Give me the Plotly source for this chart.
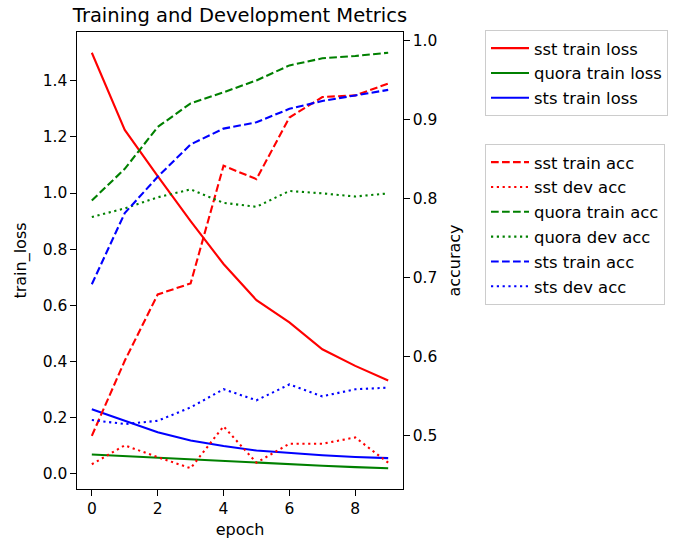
import plotly.graph_objects as go

epochs = list(range(10))

# losses (left axis)
sst_train_loss = [1.50, 1.225, 1.06, 0.90, 0.747, 0.618, 0.539, 0.443, 0.384, 0.332]
quora_train_loss = [0.068, 0.062, 0.056, 0.050, 0.044, 0.038, 0.033, 0.028, 0.023, 0.019]
sts_train_loss = [0.229, 0.187, 0.147, 0.118, 0.098, 0.082, 0.073, 0.065, 0.059, 0.055]

# accuracies (right axis)
sst_train_acc = [0.500, 0.595, 0.679, 0.693, 0.842, 0.825, 0.903, 0.929, 0.931, 0.946]
sst_dev_acc = [0.464, 0.488, 0.473, 0.459, 0.512, 0.466, 0.490, 0.490, 0.498, 0.466]
quora_train_acc = [0.798, 0.838, 0.891, 0.921, 0.935, 0.950, 0.969, 0.978, 0.981, 0.985]
quora_dev_acc = [0.777, 0.788, 0.802, 0.812, 0.795, 0.790, 0.810, 0.807, 0.803, 0.807]
sts_train_acc = [0.692, 0.782, 0.828, 0.869, 0.889, 0.897, 0.914, 0.924, 0.931, 0.938]
sts_dev_acc = [0.520, 0.515, 0.519, 0.536, 0.559, 0.545, 0.565, 0.550, 0.559, 0.561]

RED, GREEN, BLUE = "#ff0000", "#008000", "#0000ff"
DASH = "7.7px,3.3px"
DOT = "2.2px,3.6px"
LW = 2.1

fig = go.Figure()

loss_series = [
    ("sst train loss", sst_train_loss, RED),
    ("quora train loss", quora_train_loss, GREEN),
    ("sts train loss", sts_train_loss, BLUE),
]
for i, (name, vals, col) in enumerate(loss_series):
    fig.add_trace(go.Scatter(x=epochs, y=vals, name=name, mode="lines",
                             line=dict(color=col, width=LW),
                             legend="legend", legendgroup="l%d" % i, yaxis="y"))

acc_series = [
    ("sst train acc", sst_train_acc, RED, DASH),
    ("sst dev acc", sst_dev_acc, RED, DOT),
    ("quora train acc", quora_train_acc, GREEN, DASH),
    ("quora dev acc", quora_dev_acc, GREEN, DOT),
    ("sts train acc", sts_train_acc, BLUE, DASH),
    ("sts dev acc", sts_dev_acc, BLUE, DOT),
]
for i, (name, vals, col, dash) in enumerate(acc_series):
    fig.add_trace(go.Scatter(x=epochs, y=vals, name=name, mode="lines",
                             line=dict(color=col, width=LW, dash=dash),
                             legend="legend2", legendgroup="a%d" % i, yaxis="y2"))


def mpl_range(values, margin=0.05):
    lo, hi = min(values), max(values)
    pad = (hi - lo) * margin
    return [lo - pad, hi + pad]


loss_all = sst_train_loss + quora_train_loss + sts_train_loss
acc_all = sst_train_acc + sst_dev_acc + quora_train_acc + quora_dev_acc + sts_train_acc + sts_dev_acc

FONT = "DejaVu Sans"
tickfont = dict(family=FONT, size=15.5, color="#000")
axis_common = dict(showline=True, linecolor="#000", linewidth=1.2, ticks="outside",
                   ticklen=5.5, tickwidth=1.2, tickcolor="#000", showgrid=False,
                   zeroline=False, tickfont=tickfont, automargin=False)

legend_common = dict(font=dict(family=FONT, size=16.4, color="#000"),
                     bgcolor="rgba(255,255,255,0.8)", bordercolor="#cccccc", borderwidth=1,
                     xanchor="left", yanchor="top", traceorder="grouped", tracegroupgap=0.5,
                     itemwidth=38)

fig.update_layout(
    width=678, height=544,
    margin=dict(l=77, r=275, t=32, b=55, autoexpand=False),
    plot_bgcolor="white", paper_bgcolor="white",
    font=dict(family=FONT, color="#000"),
    title=dict(text="Training and Development Metrics", x=0.5, xref="paper",
               y=1 - 15 / 544, yref="container", xanchor="center", yanchor="middle",
               font=dict(family=FONT, size=19.5, color="#000")),
    xaxis=dict(range=mpl_range(epochs), dtick=2, tick0=0, mirror=True,
               title=dict(text="epoch", font=dict(family=FONT, size=16), standoff=6),
               **axis_common),
    yaxis=dict(range=mpl_range(loss_all), dtick=0.2, tick0=0, tickformat=".1f",
               title=dict(text="train_loss", font=dict(family=FONT, size=16), standoff=12),
               **axis_common),
    yaxis2=dict(range=mpl_range(acc_all), dtick=0.1, tick0=0, tickformat=".1f",
                overlaying="y", side="right", anchor="x",
                title=dict(text="accuracy", font=dict(family=FONT, size=16), standoff=12),
                **axis_common),
    legend=dict(x=(485 - 77) / 326, y=1 + 2 / 457, **legend_common),
    legend2=dict(x=(485 - 77) / 326, y=1 - (144 - 32) / 457, **legend_common),
)

fig.write_html("out.html", config={"displayModeBar": False},
               post_script="document.body.style.margin='0';document.body.style.overflow='hidden';")
